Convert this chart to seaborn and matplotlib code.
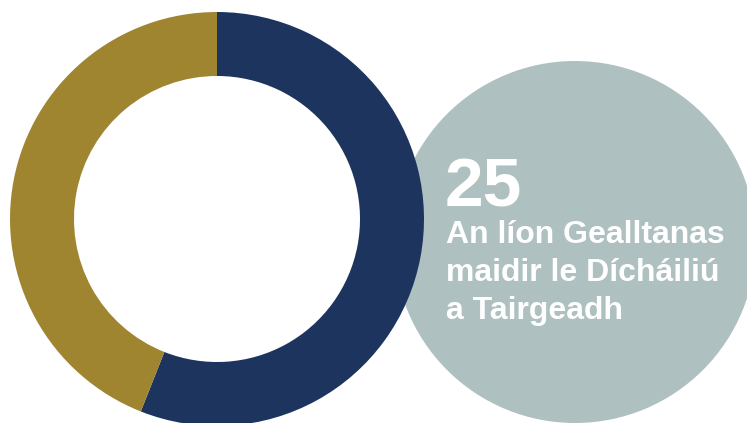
import matplotlib
matplotlib.use("Agg")
import matplotlib.pyplot as plt
from matplotlib.patches import Circle
import seaborn as sns

# Data
categories = ["Gealltanais A", "Gealltanais B"]
values = [14, 11]
total_label = "25"
caption_lines = ["An líon Gealltanas", "maidir le Dícháiliú", "a Tairgeadh"]

colors = ["#1D355E", "#A08531"]
circle_color = "#AEC0BF"

sns.set_theme(style="white")
plt.rcParams['font.family'] = ['Liberation Sans', 'DejaVu Sans']

W, H = 747, 423
fig = plt.figure(figsize=(W / 100, H / 100), dpi=100)
ax = fig.add_axes([0, 0, 1, 1])

# grey circle behind
ax.add_patch(Circle((575, H - 242), 181, facecolor=circle_color, edgecolor='none', zorder=1))

# donut
wedges, _ = ax.pie(values, colors=colors, startangle=90, counterclock=False,
                   center=(217, H - 219), radius=207,
                   wedgeprops=dict(width=64, edgecolor='none', linewidth=0),
                   frame=True)
for w in wedges:
    w.set_zorder(2)
ax.set_xlim(0, W)
ax.set_ylim(0, H)
ax.set_aspect('equal')
ax.axis('off')

ax.text(445, H - 206, total_label, color='white', fontsize=50, fontweight='bold',
        ha='left', va='baseline', zorder=3)
baselines = [243, 281, 319]
for line, b in zip(caption_lines, baselines):
    ax.text(446, H - b, line, color='white', fontsize=23, fontweight='bold',
            ha='left', va='baseline', zorder=3)

fig.savefig("out.png", dpi=100)
